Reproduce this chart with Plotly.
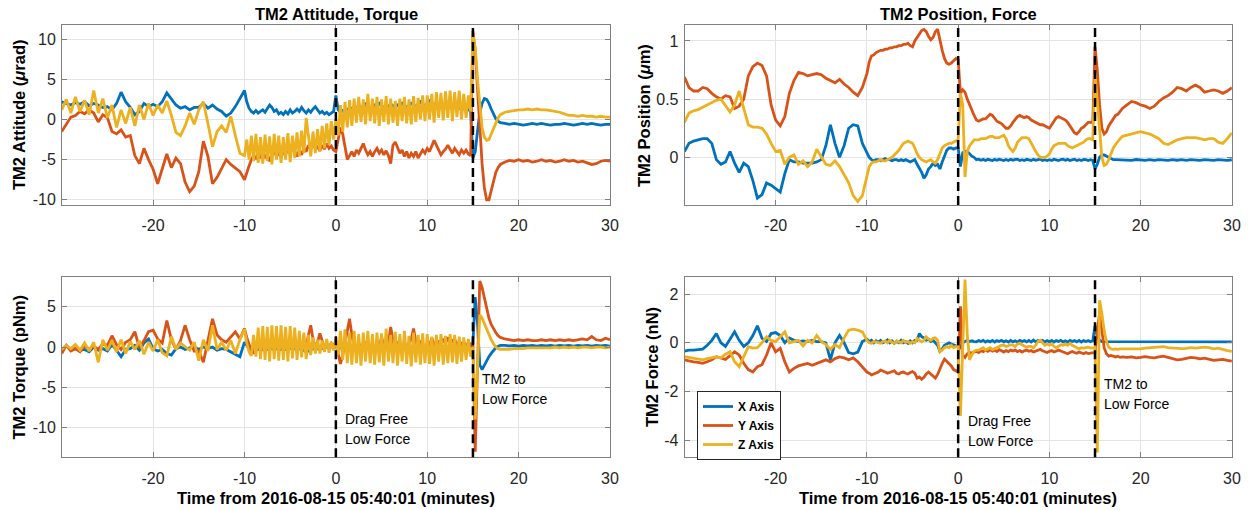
import numpy as np
import plotly.graph_objects as go

W, H = 1251, 510
FONT = "Liberation Sans, Arial, Helvetica, sans-serif"
BLUE, ORANGE, YELLOW = "#0072BD", "#D95319", "#EDB120"

# ---------------- time grid (minutes from 2016-08-15 05:40:01) ----------------
# 0.5 min sampling far from events, 0.25 min sampling around the events
time_min = np.round(np.concatenate([
    np.arange(-30.0, -10.25, 0.5),
    np.arange(-10.0, 18.01, 0.25),
    np.arange(18.5, 30.01, 0.5),
]), 3)

# ---------------- TM2 attitude (urad) ----------------
att_x = [
    [2.2, 2.0, 1.8, 2.1, 1.9, 2.2, 1.7, 2.0, 1.8, 1.5],
    [1.6, 1.2, 2.0, 3.4, 2.2, 1.5, 0.6, 1.0, 2.0, 1.6],
    [1.9, 1.6, 2.2, 3.3, 2.6, 1.8, 1.4, 1.6, 1.2, 1.5],
    [1.5, 2.0, 1.4, 1.8, 1.3, 1.0, 0.4, 0.8, 1.6, 2.6],
    [3.6, 2.2, 1.4, 1.0, 0.8, 1.1, 0.8, 1.0],
    [1.2, 0.9, 1.3, 1.8, 1.5, 1.0, 1.2, 0.7],
    [0.9, 0.6, 1.0, 0.7, 1.2, 0.8, 1.0, 1.3],
    [1.0, 1.5, 1.1, 0.8, 1.2, 0.9, 1.3, 1.6],
    [1.2, 0.8, 1.0, 0.7, 0.9, 0.6, 0.8, 1.0],
    [3.0, 1.2, 0.9, 1.1, 0.8, 1.2, 1.5, 1.3],
    [1.6, 1.3, 1.8, 1.5, 1.4, 1.9, 1.6, 1.3],
    [1.5, 1.8, 1.6, 2.0, 1.7, 1.5, 1.8, 1.6],
    [1.9, 1.7, 1.5, 1.8, 1.6, 2.0, 1.8, 1.5],
    [1.7, 2.0, 1.8, 1.6, 1.9, 2.2, 1.9, 1.7],
    [2.0, 2.3, 2.0, 1.8, 2.1, 1.8, 1.6, 1.9],
    [1.7, 1.9, 1.6, 1.8, 1.5, 1.7, 1.4, 1.6],
    [1.3, 1.5, 1.2, 1.0, -4.8, -4.0, -1.5, 0.8],
    [2.0, 2.6, 2.5, 2.0, 1.3, 0.6, 0.1, -0.2, -0.4],
    [-0.5, -0.6, -0.5, -0.6, -0.7, -0.6, -0.5, -0.6, -0.5, -0.6, -0.7, -0.6],
    [-0.6, -0.5, -0.6, -0.7, -0.6, -0.5, -0.6, -0.5, -0.6, -0.7, -0.6, -0.6],
]
att_y = [
    [-1.5, -0.6, 0.3, 0.5, 1.0, 0.7, 1.2, 0.8, -0.3, 0.6],
    [0.2, -1.5, -1.8, -1.3, -2.2, -2.0, -4.5, -5.5, -3.6, -5.0],
    [-6.2, -8.0, -6.0, -4.3, -6.0, -4.8, -5.5, -7.8, -9.0, -8.3],
    [-6.5, -2.7, -4.6, -8.0, -7.2, -6.0, -5.0, -5.6, -6.0, -6.5],
    [-7.5, -6.5, -5.8, -5.0, -4.5, -4.8, -4.2, -4.6],
    [-4.0, -4.8, -4.3, -5.2, -4.5, -3.8, -4.6, -4.1],
    [-4.8, -3.9, -4.4, -3.6, -4.2, -3.5, -4.0, -4.6],
    [-3.8, -4.4, -3.6, -4.0, -3.2, -3.7, -3.0, -3.6],
    [-3.4, -3.9, -3.2, -3.7, -3.0, -3.6, -3.3, -3.8],
    [-4.0, -2.5, -1.0, -1.8, -3.5, -5.0, -4.5, -4.0],
    [-4.6, -3.8, -4.2, -3.5, -3.0, -3.8, -4.4, -4.0],
    [-4.6, -4.0, -3.6, -4.2, -3.8, -4.4, -3.9, -4.5],
    [-5.5, -3.2, -2.8, -3.5, -4.2, -3.8, -4.6, -4.0],
    [-4.8, -4.2, -4.6, -4.0, -4.8, -4.3, -3.8, -4.2],
    [-3.6, -4.0, -3.4, -2.6, -3.2, -3.8, -4.4, -4.0],
    [-3.7, -3.2, -3.8, -4.2, -3.6, -4.0, -4.4, -3.8],
    [-4.2, -3.8, -4.3, -4.5, 11.0, 8.5, 4.0, -1.0],
    [-5.5, -8.5, -10.0, -10.0, -8.8, -7.5, -6.6, -6.0, -5.6],
    [-5.3, -5.1, -5.2, -5.0, -5.2, -5.1, -5.3, -5.2, -5.0, -5.2, -5.1, -5.3],
    [-5.2, -5.0, -5.2, -5.1, -5.3, -5.2, -5.4, -5.6, -5.5, -5.2, -5.1, -5.2],
]
att_z = [
    [1.2, 2.5, 0.8, 2.8, 1.0, 2.4, 0.6, 3.6, 0.8, 2.6],
    [0.2, 1.8, -1.0, 1.2, -0.5, 1.5, -0.8, 1.8, 0.0, 2.0],
    [0.5, 1.8, 0.8, 2.3, 0.5, -1.6, -2.0, -0.8, 0.8, -0.6],
    [1.2, 2.2, -0.5, -3.4, -1.5, -0.8, -1.6, 0.4, -2.0, -4.2],
    [-4.5, -2.5, -5.0, -2.0, -5.2, -1.8, -5.4, -2.2],
    [-5.5, -1.9, -5.2, -2.1, -5.6, -1.8, -5.0, -2.0],
    [-5.4, -2.2, -5.0, -1.7, -5.3, -2.0, -4.8, -1.6],
    [-4.6, -1.4, -4.2, 0.2, -2.0, -4.6, -1.5, -4.2],
    [-1.2, -4.0, -0.8, -3.6, -0.5, -3.2, -0.2, -2.5],
    [0.0, -2.0, 1.8, -1.5, 2.2, -1.0, 2.4, -0.8],
    [2.6, -0.4, 2.8, -0.3, 2.5, -0.6, 3.2, -0.2],
    [2.6, -0.5, 2.8, -0.8, 2.5, -0.3, 2.9, -0.6],
    [2.6, -0.4, 2.3, -0.8, 2.6, -0.2, 2.8, -0.5],
    [2.5, -0.6, 2.9, -0.3, 2.7, 0.0, 3.0, -0.2],
    [3.0, 0.0, 3.2, -0.4, 3.4, 0.2, 3.3, -0.1],
    [3.5, 0.2, 3.6, -0.2, 3.4, 0.3, 3.6, 0.0],
    [3.2, 0.2, 3.0, 1.0, 10.5, 9.0, 5.0, 1.5],
    [-1.0, -2.2, -2.6, -2.5, -1.8, -1.0, -0.3, 0.2, 0.6],
    [0.9, 1.0, 1.1, 1.2, 1.2, 1.3, 1.2, 1.3, 1.2, 1.2, 1.1, 1.0],
    [0.9, 0.7, 0.5, 0.5, 0.4, 0.5, 0.4, 0.4, 0.3, 0.4, 0.3, 0.3],
]

# ---------------- TM2 position (um) ----------------
pos_x = [
    [0.05, 0.12, 0.14, 0.15, 0.16, 0.16, 0.12, -0.02, -0.06, -0.04],
    [0.05, -0.05, -0.13, -0.05, -0.08, -0.2, -0.35, -0.32, -0.22, -0.24],
    [-0.27, -0.3, -0.14, -0.02, -0.04, -0.04, -0.05, -0.05, -0.05, -0.04],
    [-0.02, 0.1, 0.28, 0.12, 0.0, 0.1, 0.25, 0.28, 0.27, 0.12],
    [0.03, 0.0, -0.02, -0.03, -0.02, -0.02, -0.03, -0.02],
    [-0.01, -0.02, -0.02, -0.03, -0.02, -0.02, -0.03, -0.02],
    [-0.03, -0.02, -0.03, -0.04, -0.03, -0.02, -0.06, -0.09],
    [-0.13, -0.18, -0.15, -0.1, -0.08, -0.05, -0.07, -0.06],
    [-0.1, -0.04, 0.02, 0.06, 0.08, 0.08, 0.07, 0.08],
    [0.08, -0.08, 0.04, 0.05, 0.05, 0.03, 0.01, 0.0],
    [-0.02, -0.016, -0.026, -0.018, -0.027, -0.017, -0.024, -0.028],
    [-0.018, -0.026, -0.016, -0.022, -0.028, -0.019, -0.027, -0.017],
    [-0.026, -0.018, -0.016, -0.027, -0.02, -0.028, -0.017, -0.022],
    [-0.027, -0.017, -0.026, -0.02, -0.016, -0.028, -0.02, -0.027],
    [-0.02, -0.027, -0.016, -0.022, -0.028, -0.019, -0.016, -0.026],
    [-0.018, -0.027, -0.02, -0.016, -0.028, -0.02, -0.027, -0.019],
    [-0.02, -0.027, -0.02, -0.026, -0.1, -0.06, 0.0, 0.02],
    [0.02, 0.01, 0.0, -0.01, -0.02, -0.02, -0.02, -0.025, -0.02],
    [-0.02, -0.026, -0.019, -0.022, -0.027, -0.02, -0.026, -0.02, -0.022, -0.027, -0.02, -0.025],
    [-0.02, -0.026, -0.02, -0.022, -0.027, -0.02, -0.021, -0.026, -0.02, -0.022, -0.027, -0.021],
]
pos_y = [
    [0.69, 0.6, 0.57, 0.57, 0.6, 0.59, 0.55, 0.52, 0.5, 0.53],
    [0.52, 0.42, 0.44, 0.5, 0.7, 0.78, 0.81, 0.79, 0.7, 0.45],
    [0.32, 0.27, 0.35, 0.55, 0.66, 0.73, 0.72, 0.7, 0.71, 0.72],
    [0.71, 0.68, 0.66, 0.64, 0.67, 0.63, 0.6, 0.56, 0.53, 0.6],
    [0.72, 0.82, 0.87, 0.88, 0.9, 0.91, 0.92, 0.92],
    [0.93, 0.93, 0.94, 0.94, 0.95, 0.95, 0.96, 0.96],
    [0.97, 0.97, 0.98, 0.96, 0.95, 1.0, 1.03, 1.06],
    [1.09, 1.1, 1.08, 1.04, 1.01, 1.03, 1.08, 1.1],
    [1.0, 0.92, 0.85, 0.81, 0.8, 0.81, 0.83, 0.85],
    [0.84, 0.55, 0.58, 0.56, 0.5, 0.45, 0.4, 0.36],
    [0.32, 0.31, 0.32, 0.33, 0.33, 0.35, 0.37, 0.36],
    [0.33, 0.31, 0.3, 0.29, 0.27, 0.25, 0.25, 0.27],
    [0.3, 0.33, 0.35, 0.36, 0.35, 0.34, 0.35, 0.34],
    [0.32, 0.31, 0.3, 0.29, 0.28, 0.28, 0.27, 0.26],
    [0.25, 0.28, 0.31, 0.34, 0.35, 0.34, 0.33, 0.32],
    [0.3, 0.27, 0.23, 0.21, 0.2, 0.22, 0.25, 0.26],
    [0.28, 0.3, 0.3, 0.3, 0.95, 0.75, 0.45, 0.25],
    [0.2, 0.22, 0.27, 0.3, 0.33, 0.36, 0.37, 0.4, 0.42],
    [0.45, 0.48, 0.47, 0.45, 0.44, 0.42, 0.44, 0.48, 0.51, 0.53, 0.56, 0.6],
    [0.59, 0.57, 0.6, 0.62, 0.6, 0.56, 0.57, 0.58, 0.57, 0.55, 0.57, 0.6],
]
pos_z = [
    [0.3, 0.38, 0.4, 0.41, 0.43, 0.45, 0.47, 0.49, 0.5, 0.44],
    [0.39, 0.45, 0.57, 0.42, 0.28, 0.26, 0.26, 0.25, 0.2, 0.12],
    [0.05, 0.06, -0.06, 0.0, 0.02, -0.06, -0.03, -0.08, -0.04, 0.07],
    [0.0, -0.06, -0.07, -0.03, -0.08, -0.15, -0.22, -0.33, -0.38, -0.33],
    [-0.15, -0.08, -0.05, -0.04, -0.04, -0.03, -0.02, -0.03],
    [-0.03, -0.02, -0.01, 0.0, 0.02, 0.04, 0.06, 0.09],
    [0.12, 0.13, 0.14, 0.13, 0.12, 0.08, 0.03, 0.0],
    [-0.02, -0.03, -0.04, -0.03, -0.02, -0.04, -0.05, -0.02],
    [0.04, 0.08, 0.1, 0.11, 0.12, 0.12, 0.13, 0.14],
    [0.15, 0.55, 0.45, -0.17, 0.05, 0.1, 0.13, 0.15],
    [0.15, 0.15, 0.16, 0.16, 0.16, 0.17, 0.18, 0.18],
    [0.17, 0.17, 0.17, 0.18, 0.19, 0.16, 0.1, 0.07],
    [0.05, 0.08, 0.13, 0.15, 0.17, 0.17, 0.17, 0.16],
    [0.12, 0.08, 0.05, 0.02, 0.0, 0.0, 0.0, 0.01],
    [0.03, 0.07, 0.1, 0.11, 0.12, 0.12, 0.12, 0.12],
    [0.1, 0.09, 0.08, 0.09, 0.1, 0.11, 0.12, 0.13],
    [0.15, 0.16, 0.16, 0.15, 0.72, 0.5, 0.25, 0.0],
    [-0.07, -0.06, -0.02, 0.03, 0.08, 0.11, 0.14, 0.16, 0.18],
    [0.19, 0.2, 0.21, 0.22, 0.21, 0.2, 0.18, 0.16, 0.12, 0.11, 0.13, 0.15],
    [0.16, 0.17, 0.17, 0.17, 0.16, 0.15, 0.16, 0.16, 0.13, 0.12, 0.16, 0.21],
]

# ---------------- TM2 torque (pNm) ----------------
trq_x = [
    [-0.5, 0.2, -0.3, -0.2, -0.4, -0.3, -0.6, 0.0, -0.4, -0.2],
    [-0.5, 0.3, -0.4, -1.2, -0.3, -0.2, 0.2, -0.4, 0.5, 1.0],
    [-0.2, -0.5, -0.3, -0.8, -1.0, -0.2, 0.0, -0.3, -0.1, 0.0],
    [-0.3, 0.0, -0.2, 0.0, -0.4, -0.2, -0.3, -0.6, -0.9, -1.2],
    [0.6, 0.2, -0.2, -0.3, -0.2, -0.4, -0.3, -0.2],
    [-0.3, -0.2, -0.3, -0.1, -0.2, -0.3, -0.2, -0.4],
    [-0.3, -0.2, -0.3, -0.2, -0.1, -0.3, -0.2, -0.3],
    [-0.2, -0.3, -0.4, -0.6, -0.5, -0.3, -0.2, -0.3],
    [-0.2, -0.1, -0.2, -0.1, 0.0, -0.1, 0.0, 0.1],
    [0.0, 0.1, -0.1, 0.0, 0.1, -0.1, 0.0, 0.1],
    [0.0, -0.1, 0.1, 0.0, -0.1, 0.1, 0.0, -0.1],
    [0.1, 0.0, -0.1, 0.0, 0.1, 0.0, -0.1, 0.1],
    [0.0, -0.1, 0.1, 0.0, -0.1, 0.1, 0.0, 0.0],
    [0.1, 0.0, -0.1, 0.1, 0.0, -0.1, 0.0, 0.1],
    [0.0, 0.1, -0.1, 0.0, 0.1, 0.0, -0.1, 0.0],
    [0.1, 0.0, -0.1, 0.0, 0.1, -0.1, 0.0, 0.1],
    [0.0, 0.1, 0.0, 0.1, 0.5, 6.2, 3.0, -2.2],
    [-2.8, -2.2, -1.7, -1.2, -0.8, -0.4, -0.1, 0.1, 0.2],
    [0.2, 0.15, 0.2, 0.1, 0.2, 0.15, 0.2, 0.1, 0.2, 0.15, 0.2, 0.1],
    [0.2, 0.15, 0.2, 0.1, 0.2, 0.15, 0.2, 0.1, 0.2, 0.15, 0.2, 0.1],
]
trq_y = [
    [-0.8, 0.2, -0.5, -0.2, -0.6, 0.2, -0.3, 0.1, -0.3, 0.4],
    [0.2, 1.4, 0.3, -0.3, 0.6, 0.9, 1.9, -0.1, 0.8, 1.9],
    [2.1, 1.0, 0.5, 3.3, 0.9, -0.3, 0.8, 2.7, 0.9, -0.5],
    [-0.5, -1.9, 0.8, 3.5, 1.5, 0.9, 0.6, 1.3, 1.9, 1.0],
    [2.3, 1.2, 0.2, -0.5, -0.7, -0.2, 0.3, 0.0],
    [-0.3, 0.2, 0.4, -0.2, 0.0, 0.3, -0.1, 0.2],
    [0.0, 0.3, -0.2, 0.4, 0.1, -0.2, 0.3, 0.0],
    [0.2, -0.1, 0.3, 0.0, 1.5, 2.7, 1.0, 0.0],
    [0.6, 1.7, 0.8, -0.2, 0.3, 0.0, 0.5, 0.2],
    [0.6, -0.8, -2.1, -1.0, 0.5, 2.5, 3.5, 1.5],
    [0.1, -0.3, 0.4, 0.2, -0.4, 0.5, 0.3, -0.2],
    [0.4, -0.5, 0.6, 0.0, 1.2, 0.3, -0.4, 0.5],
    [2.5, 0.8, -0.3, 0.5, 0.2, -0.5, 0.6, 0.0],
    [0.4, 1.0, 2.3, 0.7, -0.2, 0.6, 0.3, -0.3],
    [0.5, 0.2, 1.1, 0.4, -0.3, 0.8, 0.2, 1.0],
    [0.5, 1.2, 0.3, 0.8, 1.0, 0.2, 0.7, 0.4],
    [0.6, 0.2, 0.5, 0.4, 0.4, -13.0, -3.0, 8.2],
    [7.4, 6.0, 4.8, 3.6, 2.8, 2.2, 1.8, 1.4, 1.2],
    [1.0, 0.9, 0.8, 0.9, 0.8, 0.9, 0.8, 0.8, 0.9, 0.8, 0.9, 0.8],
    [0.9, 0.8, 0.9, 0.8, 0.9, 1.0, 0.9, 1.3, 0.9, 0.8, 1.1, 0.9],
]
trq_z = [
    [-0.3, 0.2, -0.2, 0.3, -0.4, 0.5, -0.5, 0.6, -1.9, 0.9],
    [-0.4, 0.8, -0.6, 0.9, -0.8, 0.7, -0.3, 0.8, -0.9, 0.6],
    [-0.5, 0.9, -0.7, -1.1, 1.3, -0.3, 0.5, 0.1, -0.4, 0.6],
    [-1.7, 0.9, -0.5, 2.7, -0.3, 0.6, -0.4, 0.8, -0.8, 0.9],
    [2.2, 0.5, -0.6, -1.1, 1.5, -1.2, 2.4, -1.5],
    [2.6, -1.6, 2.5, -1.8, 2.7, -1.5, 2.6, -1.7],
    [2.7, -1.6, 2.5, -1.8, 2.6, -1.4, 2.4, -1.6],
    [2.0, -1.3, 1.8, -1.5, 1.5, -1.0, 1.2, -0.8],
    [0.9, -0.8, 0.8, -0.6, 1.0, -0.7, 0.6, -0.4],
    [1.2, -1.0, 2.0, -1.6, 2.2, -2.0, 1.8, -2.2],
    [2.0, -2.0, 1.6, -2.3, 1.8, -1.8, 2.0, -2.0],
    [1.6, -2.2, 1.8, -1.9, 1.7, -2.3, 2.3, -1.8],
    [1.5, -2.0, 1.9, -2.3, 1.6, -1.8, 2.0, -2.1],
    [1.4, -2.4, 1.8, -1.9, 1.5, -2.2, 1.7, -2.0],
    [1.6, -2.1, 1.3, -2.3, 1.5, -1.8, 1.6, -2.2],
    [1.4, -2.0, 1.6, -1.9, 1.5, -2.1, 1.3, -1.8],
    [1.2, -1.6, 1.0, -1.2, 0.0, -9.0, -2.0, 4.0],
    [3.6, 2.9, 2.2, 1.5, 0.9, 0.4, 0.0, -0.2, -0.3],
    [-0.3, -0.3, -0.2, -0.2, -0.2, -0.1, -0.1, -0.1, -0.1, -0.1, -0.1, 0.0],
    [-0.1, 0.0, -0.1, 0.0, -0.1, 0.0, 0.0, -0.1, 0.0, 0.0, -0.1, 0.0],
]

# ---------------- TM2 force (nN) ----------------
frc_x = [
    [-0.34, -0.3, -0.3, -0.28, -0.26, -0.1, 0.1, 0.38, 0.0, -0.15],
    [0.18, 0.45, 0.1, -0.15, 0.0, 0.3, 0.7, 0.18, 0.05, 0.38],
    [0.42, 0.3, 0.0, 0.2, 0.1, 0.05, 0.08, 0.05, 0.1, 0.05],
    [0.05, 0.0, -0.7, 0.0, 0.3, 0.0, -0.4, -0.45, -0.38, 0.05],
    [0.15, 0.05, 0.1, 0.0, 0.08, 0.02, 0.1, 0.0],
    [0.05, 0.12, 0.0, 0.08, -0.02, 0.06, 0.0, 0.1],
    [0.0, 0.05, -0.02, 0.08, 0.0, 0.1, 0.1, 0.38],
    [0.25, 0.2, 0.1, 0.15, 0.05, 0.1, 0.0, -0.1],
    [-0.35, -0.25, -0.1, -0.05, 0.0, -0.05, -0.1, -0.12],
    [-0.15, -0.2, 0.0, 0.05, 0.1, 0.05, 0.08, 0.05],
    [0.04, 0.09, 0.05, 0.1, 0.03, 0.08, 0.04, 0.1],
    [0.03, 0.09, 0.05, 0.1, 0.04, 0.08, 0.03, 0.1],
    [0.04, 0.08, 0.03, 0.1, 0.05, 0.09, 0.04, 0.1],
    [0.03, 0.11, 0.04, 0.09, 0.05, 0.1, 0.03, 0.09],
    [0.04, 0.1, 0.03, 0.09, 0.05, 0.1, 0.04, 0.08],
    [0.03, 0.1, 0.05, 0.09, 0.04, 0.1, 0.03, 0.09],
    [0.05, 0.09, 0.04, 0.08, 0.7, 0.3, 0.1, 0.05],
    [0.05, 0.05, 0.03, 0.05, 0.04, 0.05, 0.03, 0.05, 0.04],
    [0.04, 0.05, 0.03, 0.05, 0.04, 0.03, 0.05, 0.04, 0.03, 0.05, 0.04, 0.03],
    [0.04, 0.05, 0.03, 0.04, 0.05, 0.03, 0.04, 0.05, 0.03, 0.04, 0.05, 0.04],
]
frc_y = [
    [-0.7, -0.75, -0.78, -0.8, -0.84, -0.78, -0.7, -0.57, -0.62, -0.68],
    [-0.53, -0.37, -0.5, -0.84, -1.1, -1.2, -0.98, -0.9, -0.5, 0.0],
    [-0.37, -0.23, -0.78, -1.2, -1.05, -0.95, -0.9, -0.85, -0.92, -0.84],
    [-0.78, -0.7, -0.78, -0.65, -0.58, -0.62, -0.7, -0.62, -0.78, -0.98],
    [-1.2, -1.25, -1.32, -1.28, -1.25, -1.2, -1.12, -1.15],
    [-1.2, -1.25, -1.22, -1.18, -1.15, -1.25, -1.28, -1.22],
    [-1.2, -1.25, -1.28, -1.22, -1.18, -1.25, -1.45, -1.4],
    [-1.5, -1.42, -1.28, -1.2, -1.28, -1.35, -1.45, -1.3],
    [-1.05, -0.85, -0.67, -0.75, -0.85, -0.95, -1.1, -1.15],
    [-1.2, 1.5, -0.5, -0.6, -0.45, -0.4, -0.42, -0.38],
    [-0.35, -0.4, -0.32, -0.36, -0.3, -0.35, -0.28, -0.34],
    [-0.3, -0.36, -0.28, -0.33, -0.38, -0.32, -0.36, -0.3],
    [-0.34, -0.3, -0.36, -0.32, -0.38, -0.33, -0.3, -0.35],
    [-0.32, -0.38, -0.34, -0.3, -0.27, -0.33, -0.36, -0.4],
    [-0.35, -0.32, -0.38, -0.35, -0.3, -0.34, -0.38, -0.42],
    [-0.45, -0.4, -0.36, -0.4, -0.43, -0.38, -0.42, -0.45],
    [-0.4, -0.44, -0.42, -0.4, -0.4, 0.5, 1.2, 0.5],
    [-0.2, -0.45, -0.55, -0.52, -0.55, -0.58, -0.55, -0.6, -0.58],
    [-0.6, -0.58, -0.62, -0.6, -0.57, -0.6, -0.62, -0.58, -0.55, -0.6, -0.66, -0.7],
    [-0.68, -0.64, -0.6, -0.62, -0.66, -0.63, -0.68, -0.72, -0.7, -0.68, -0.72, -0.75],
]
frc_z = [
    [-0.57, -0.6, -0.62, -0.65, -0.7, -0.65, -0.62, -0.58, -0.62, -0.47],
    [-0.37, -0.78, -0.98, -0.55, -0.16, -0.22, -0.2, 0.0, 0.25, 0.1],
    [0.05, 0.25, 0.45, 0.0, 0.05, 0.1, -0.13, 0.1, 0.0, 0.3],
    [0.05, -0.07, -0.27, -0.07, -0.2, 0.2, 0.52, 0.56, 0.52, 0.45],
    [0.1, 0.0, -0.02, 0.05, 0.04, 0.0, -0.02, 0.05],
    [0.07, 0.0, 0.1, 0.02, -0.02, 0.08, 0.05, 0.0],
    [0.1, 0.02, 0.05, -0.02, 0.04, 0.0, 0.18, 0.1],
    [0.04, 0.1, 0.25, 0.15, 0.1, 0.18, 0.2, 0.1],
    [-0.37, -0.3, -0.2, -0.15, -0.2, -0.1, -0.2, -0.15],
    [-0.16, -3.0, -0.2, 2.6, 0.3, -0.7, -0.5, -0.35],
    [-0.3, -0.3, -0.25, -0.2, -0.3, -0.25, -0.2, -0.28],
    [-0.25, -0.2, -0.15, -0.1, -0.1, -0.15, -0.12, -0.08],
    [-0.1, -0.15, -0.05, -0.02, -0.08, -0.12, -0.18, -0.15],
    [-0.15, -0.2, -0.1, 0.05, 0.1, 0.0, -0.1, -0.05],
    [-0.1, -0.05, -0.15, -0.2, -0.12, -0.08, -0.1, -0.05],
    [-0.1, -0.02, -0.1, -0.15, -0.2, -0.25, -0.2, -0.22],
    [-0.2, -0.18, -0.22, -0.2, -0.2, -4.5, 1.75, 1.2],
    [0.5, 0.05, -0.18, -0.25, -0.27, -0.25, -0.27, -0.25, -0.25],
    [-0.26, -0.25, -0.24, -0.25, -0.22, -0.2, -0.18, -0.17, -0.16, -0.2, -0.22, -0.23],
    [-0.24, -0.23, -0.2, -0.22, -0.2, -0.18, -0.2, -0.25, -0.22, -0.28, -0.32, -0.35],
]

axis_names = ["X Axis", "Y Axis", "Z Axis"]
x_ticks = [-20, -10, 0, 10, 20, 30]
event_times = [0, 15]


def flat(rows, name):
    vals = [v for r in rows for v in r]
    if len(vals) != len(time_min):
        raise ValueError(f"{name}: {len(vals)} values vs {len(time_min)} times; rows {[len(r) for r in rows]}")
    return vals


def px(x):
    return x / W


def py(y):
    return 1 - y / H


panels = [
    # (axis suffix, series, y range, y ticks)
    ("", [att_x, att_y, att_z], [-10.65, 11.8], [-10, -5, 0, 5, 10]),
    ("2", [pos_x, pos_y, pos_z], [-0.41, 1.14], [0, 0.5, 1]),
    ("3", [trq_x, trq_y, trq_z], [-13.7, 8.7], [-10, -5, 0, 5]),
    ("4", [frc_x, frc_y, frc_z], [-4.7, 2.7], [-4, -2, 0, 2]),
]
colors = [BLUE, ORANGE, YELLOW]

fig = go.Figure()
for pi, (sfx, series, yr, yt) in enumerate(panels):
    for si, s in enumerate(series):
        fig.add_trace(go.Scatter(
            x=time_min, y=flat(s, f"panel{pi}-{si}"), mode="lines",
            line=dict(color=colors[si], width=2.8),
            name=axis_names[si], legendgroup=axis_names[si],
            showlegend=(pi == 3),
            xaxis="x" + sfx, yaxis="y" + sfx,
        ))

X_LEFT = [px(62), px(610)]
X_RIGHT = [px(684.7), px(1231.9)]
Y_TOP = [py(205), py(24.7)]
Y_BOT = [py(457.3), py(277)]
domains = {"": (X_LEFT, Y_TOP), "2": (X_RIGHT, Y_TOP), "3": (X_LEFT, Y_BOT), "4": (X_RIGHT, Y_BOT)}

AX_COLOR = "#808080"
common = dict(showline=True, linecolor=AX_COLOR, linewidth=1, mirror="ticks",
              ticks="inside", ticklen=5, tickcolor=AX_COLOR, tickwidth=1,
              showgrid=True, gridcolor="#e4e4e4", gridwidth=1, zeroline=False,
              automargin=False,
              tickfont=dict(family=FONT, size=16, color="#262626"))


def fmt(v):
    return f"{v:g}"


layout = {}
for sfx, series, yr, yt in panels:
    xd, yd = domains[sfx]
    layout["xaxis" + sfx] = dict(common, domain=xd, range=[-29.97, 30], anchor="y" + sfx,
                                 tickvals=x_ticks, ticktext=[fmt(v) for v in x_ticks],
                                 ticklabelstandoff=6)
    layout["yaxis" + sfx] = dict(common, domain=yd, range=yr, anchor="x" + sfx,
                                 tickvals=yt, ticktext=[fmt(v) for v in yt],
                                 ticklabelstandoff=2)

shapes = []
for sfx, *_ in panels:
    for t in event_times:
        shapes.append(dict(type="line", xref="x" + sfx, yref=("y" + sfx + " domain"),
                           x0=t, x1=t, y0=0, y1=1, layer="above",
                           line=dict(color="black", width=2.5, dash="9px,5px")))

BOLD = dict(family=FONT, size=16.5, color="black", weight="bold")
annotations = []


def ann(text, x, y, font, xanchor="center", yanchor="middle", angle=0):
    annotations.append(dict(text=text, x=px(x), y=py(y), xref="paper", yref="paper",
                            xanchor=xanchor, yanchor=yanchor, showarrow=False,
                            textangle=angle, font=font))


# subplot titles
ann("TM2 Attitude, Torque", 336, 14, BOLD)
ann("TM2 Position, Force", 958, 14, BOLD)
# x axis titles
xlabel = "Time from 2016-08-15 05:40:01 (minutes)"
ann(xlabel, 336, 498, BOLD)
ann(xlabel, 958, 498, BOLD)
# y axis titles
ann("TM2 Attitude (<i>μ</i>rad)", 19, 115, BOLD, angle=-90)
ann("TM2 Position (<i>μ</i>m)", 644, 115, BOLD, angle=-90)
ann("TM2 Torque (pNm)", 18.5, 367, BOLD, angle=-90)
ann("TM2 Force (nN)", 652, 367, BOLD, angle=-90)
# event labels
NOTE = dict(family=FONT, size=14, color="black")
for line, (x, y) in zip(["Drag Free", "Low Force"], [(343, 419), (343, 439)]):
    ann(line, x, y, NOTE, xanchor="left")
for line, (x, y) in zip(["TM2 to", "Low Force"], [(480, 379), (480, 399)]):
    ann(line, x, y, NOTE, xanchor="left")
for line, (x, y) in zip(["Drag Free", "Low Force"], [(965.5, 420.5), (965.5, 440.5)]):
    ann(line, x, y, NOTE, xanchor="left")
for line, (x, y) in zip(["TM2 to", "Low Force"], [(1102, 384), (1102, 404)]):
    ann(line, x, y, NOTE, xanchor="left")

fig.update_layout(
    **layout,
    width=W, height=H,
    margin=dict(l=0, r=0, t=0, b=0),
    paper_bgcolor="white", plot_bgcolor="white",
    shapes=shapes, annotations=annotations,
    showlegend=True,
    legend=dict(x=px(697), y=py(391), xanchor="left", yanchor="top",
                bgcolor="white", bordercolor="#262626", borderwidth=1,
                font=dict(family=FONT, size=12, color="black", weight="bold"),
                tracegroupgap=0, itemwidth=30),
)

fig.write_html("out.html")
